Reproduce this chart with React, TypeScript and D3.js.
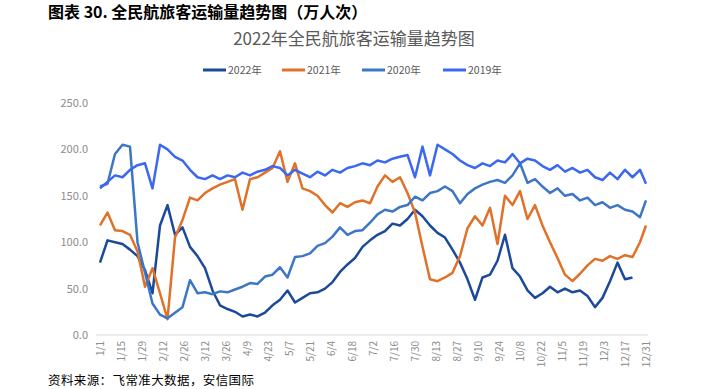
import React from "react";
import * as d3 from "d3";

const days = [0,5,10,15,20,25,30,35,40,45,50,55,60,65,70,75,80,85,90,95,100,105,110,115,120,125,130,135,140,145,150,155,160,165,170,175,180,185,190,195,200,205,210,215,220,225,230,235,240,245,250,255,260,265,270,275,280,285,290,295,300,305,310,315,320,325,330,335,340,345,350,355,360,364];

const s2022: (number | null)[] = [78,102,100,98,92,85,70,45,118,140,108,116,95,85,72,48,32,28,25,20,22,20,24,32,38,48,35,40,45,46,50,57,68,76,83,95,102,108,112,120,118,125,135,128,118,110,105,92,78,60,38,62,65,80,108,72,63,48,40,45,52,46,50,46,48,42,30,40,58,78,60,62,null,null];
const s2021: (number | null)[] = [118,132,113,112,108,90,52,72,45,17,105,124,148,145,153,158,162,165,168,135,168,170,175,180,198,165,185,158,155,150,140,132,142,138,143,145,142,160,172,165,170,153,132,95,60,58,62,67,85,115,128,118,137,98,150,140,155,125,140,118,100,83,65,58,66,75,82,80,85,82,86,84,100,118];
const s2020: (number | null)[] = [160,163,195,205,203,100,67,34,22,18,24,30,59,45,46,44,47,46,49,52,56,55,63,65,73,62,84,85,88,96,99,106,116,108,112,113,121,130,135,133,138,140,149,145,153,155,160,155,142,152,158,162,165,167,164,172,185,164,168,160,153,158,150,152,145,148,140,143,137,140,135,133,127,145];
const s2019: (number | null)[] = [158,165,172,170,178,183,185,158,205,200,192,188,178,170,168,172,168,172,170,175,172,176,178,182,180,172,178,174,170,176,172,178,175,180,182,185,183,188,186,190,192,194,170,203,172,205,200,195,188,183,180,185,182,188,186,195,185,190,188,182,178,183,176,180,175,178,170,167,175,168,178,170,178,163];

const seriesNames = ["2022年", "2021年", "2020年", "2019年"];
const seriesColors = ["#1b4a9a", "#e07128", "#3d76c7", "#3a68f0"];
const seriesData = [s2022, s2021, s2020, s2019];

const tickDays = [0,14,28,42,56,70,84,98,112,126,140,154,168,182,196,210,224,238,252,266,280,294,308,322,336,350,364];
const tickLabels = ["1/1","1/15","1/29","2/12","2/26","3/12","3/26","4/9","4/23","5/7","5/21","6/4","6/18","7/2","7/16","7/30","8/13","8/27","9/10","9/24","10/8","10/22","11/5","11/19","12/3","12/17","12/31"];
const yTicks = [0, 50, 100, 150, 200, 250];

const pageTitle = "图表 30. 全民航旅客运输量趋势图（万人次）";
const chartTitle = "2022年全民航旅客运输量趋势图";
const source = "资料来源：飞常准大数据，安信国际";

export default function App() {
  const W = 707, H = 389;
  const x = d3.scaleLinear().domain([0, 364]).range([100, 646]);
  const y = d3.scaleLinear().domain([0, 250]).range([335, 103]);
  const line = d3
    .line<number | null>()
    .defined((d) => d != null)
    .x((_, i) => x(days[i]))
    .y((d) => y(d as number));

  const legendX = [203, 282, 362, 443];
  const font = "'Noto Sans CJK SC', 'Noto Sans', sans-serif";

  return (
    <svg width={W} height={H} style={{ position: "absolute", left: 0, top: 0, background: "#fff" }}>
      <rect x={0} y={0} width={W} height={H} fill="#fff" />
      <text x={48} y={18} fontFamily={font} fontWeight={700} fontSize={16} fill="#000">
        {pageTitle}
      </text>
      <text x={354} y={45} textAnchor="middle" fontFamily={font} fontSize={17} fill="#595959">
        {chartTitle}
      </text>
      {seriesNames.map((n, i) => (
        <g key={n}>
          <line x1={legendX[i]} x2={legendX[i] + 23} y1={70} y2={70} stroke={seriesColors[i]} strokeWidth={3} />
          <text x={legendX[i] + 25} y={74} fontFamily={font} fontSize={10.5} fill="#595959">
            {n}
          </text>
        </g>
      ))}
      {yTicks.map((t) => (
        <text key={t} x={88} y={y(t) + 4} textAnchor="end" fontFamily={font} fontSize={11} fill="#8c8c8c">
          {t.toFixed(1)}
        </text>
      ))}
      <line x1={96} x2={648} y1={y(0)} y2={y(0)} stroke="#d9d9d9" strokeWidth={1} />
      {tickDays.map((d, i) => (
        <text
          key={d}
          transform={`translate(${x(d) + 3.5},341) rotate(-90)`}
          textAnchor="end"
          fontFamily={font}
          fontSize={10}
          fill="#8c8c8c"
        >
          {tickLabels[i]}
        </text>
      ))}
      {seriesData.map((s, i) => (
        <path key={i} d={line(s) || ""} fill="none" stroke={seriesColors[i]} strokeWidth={2.5} strokeLinejoin="round" />
      ))}
      <text x={48} y={385} fontFamily={font} fontSize={12.5} letterSpacing={0.4} fill="#000">
        {source}
      </text>
    </svg>
  );
}
